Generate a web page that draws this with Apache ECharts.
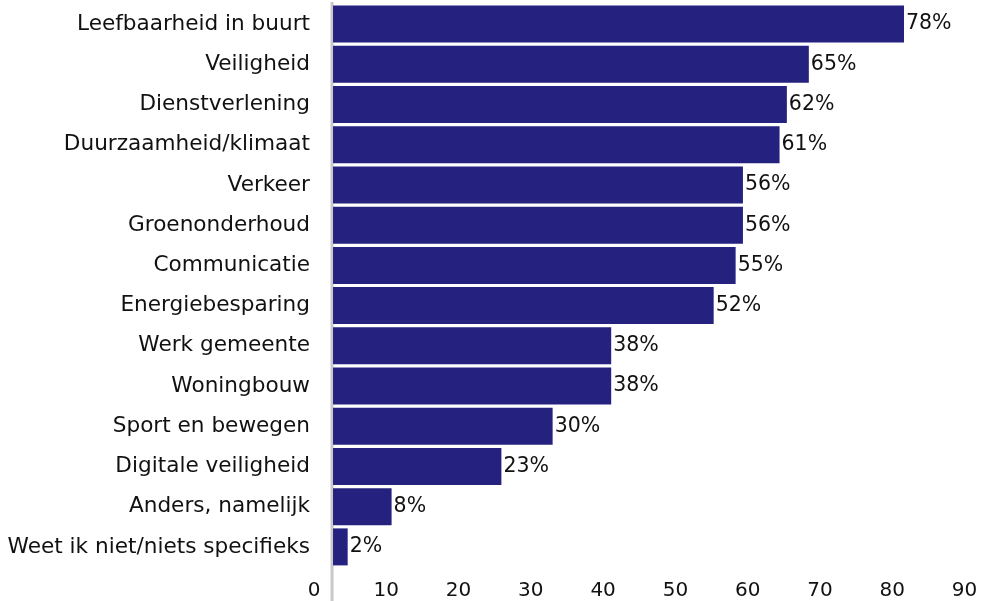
<!DOCTYPE html>
<html><head><meta charset="utf-8">
<script src="https://cdn.jsdelivr.net/npm/echarts@6/dist/echarts.min.js"></script>
<style>html,body{margin:0;padding:0;background:#fff}#c{width:986px;height:601px}</style>
</head><body><div id="c"></div>
<script>
const categories = ["Leefbaarheid in buurt","Veiligheid","Dienstverlening","Duurzaamheid/klimaat","Verkeer","Groenonderhoud","Communicatie","Energiebesparing","Werk gemeente","Woningbouw","Sport en bewegen","Digitale veiligheid","Anders, namelijk","Weet ik niet/niets specifieks"];
const values = [78,65,62,61,56,56,55,52,38,38,30,23,8,2];
const tickValues = [0,10,20,30,40,50,60,70,80,90];

const FONT = 'DejaVu Sans';
const chart = echarts.init(document.getElementById('c'), null, {renderer:'canvas'});
const option = {
  animation:false,
  grid:{left:314,right:2,top:4,bottom:33,containLabel:false},
  xAxis:[
    {type:'value',min:-2.6,max:88.93,show:false,splitLine:{show:false}},
    {type:'value',min:0,max:92.7,interval:10,position:'bottom',
     axisLine:{show:false},axisTick:{show:false},splitLine:{show:false},
     axisLabel:{color:'#111',fontFamily:FONT,fontSize:20,margin:14,showMaxLabel:false,
       formatter:v=>tickValues.includes(v)?String(v):''}}
  ],
  yAxis:{type:'category',data:categories,inverse:true,
    axisLine:{show:false},axisTick:{show:false},splitLine:{show:false},
    axisLabel:{color:'#111',fontFamily:FONT,fontSize:21.6,margin:4}},
  series:[{type:'bar',xAxisIndex:0,data:values,barCategoryGap:'8%',
    itemStyle:{color:'#24227E'},
    label:{show:true,position:'right',distance:2,formatter:'{c}%',color:'#111',fontFamily:FONT,fontSize:20.5}}]
};
chart.setOption(option);
const x0 = chart.convertToPixel({xAxisIndex:0},0);
chart.setOption({graphic:[{type:'line',z:-1,zlevel:0,shape:{x1:x0-1,y1:2,x2:x0-1,y2:601},style:{stroke:'#c8c8c8',lineWidth:3}}]});
</script></body></html>
